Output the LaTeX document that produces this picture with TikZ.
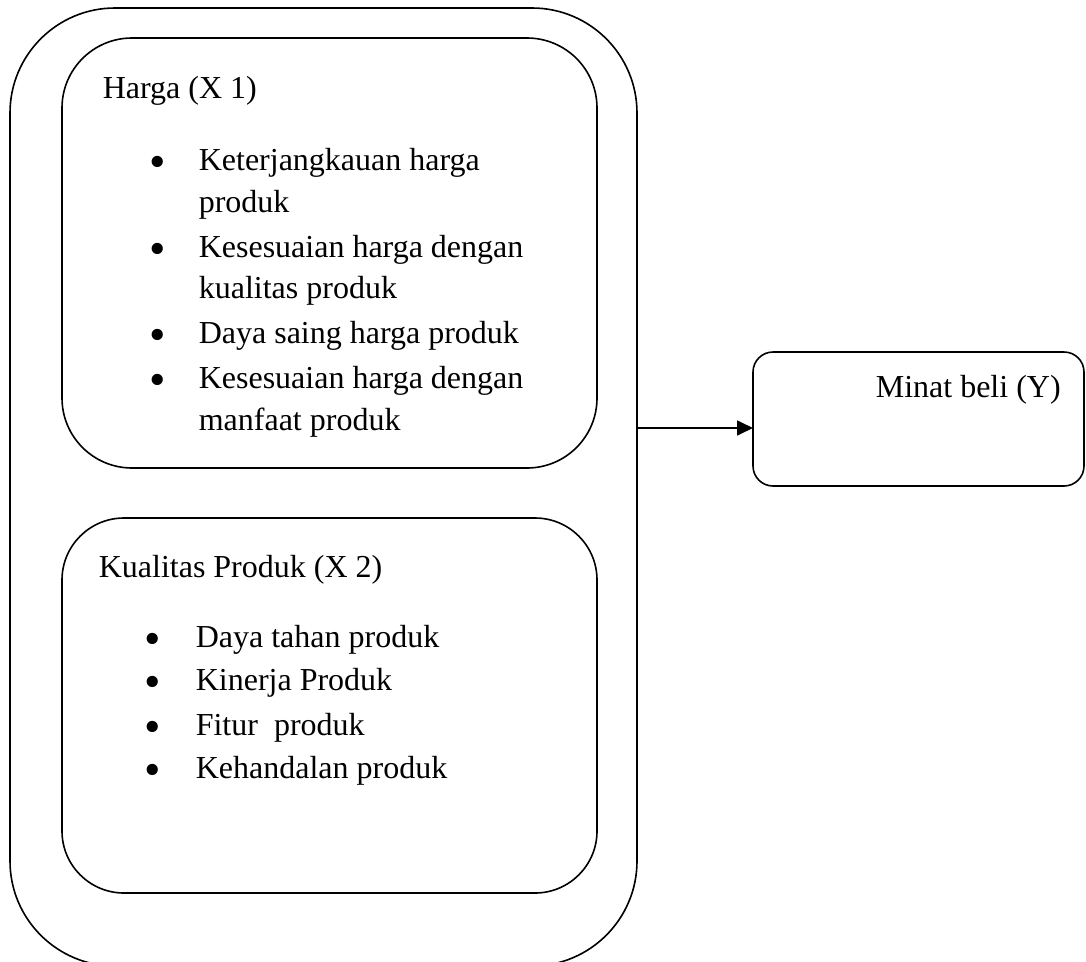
\documentclass[tikz,border=0pt]{standalone}
\usepackage{fontspec}
\setmainfont{Liberation Serif}
\usetikzlibrary{arrows.meta}
\begin{document}
\begin{tikzpicture}[x=1pt,y=-1pt, line width=1.6pt,
  box/.style={draw, rectangle, inner sep=0pt, outer sep=0pt, anchor=north west},
  txt/.style={anchor=base west, inner sep=0pt, font=\fontsize{32}{38}\selectfont},
  bul/.style={anchor=base, inner sep=0pt, yshift=-7pt, font=\fontsize{47}{50}\selectfont},
  arr/.style={-{Triangle[length=16pt,width=15pt]}}]
\useasboundingbox (0,0) rectangle (1086,961);
\node[box, rounded corners=105pt, minimum width=627pt, minimum height=958pt] (outer) at (10,8) {};
\node[box, rounded corners=70pt, minimum width=535pt, minimum height=430pt] (harga) at (62,38) {};
\node[box, rounded corners=62pt, minimum width=535pt, minimum height=375pt] (kualitas) at (62,518) {};
\node[box, rounded corners=20pt, minimum width=331pt, minimum height=134pt] (minat) at (753,352) {};

% Harga
\node[txt] (h0) at (102,98) {Harga (X 1)};
\node[bul] (hb1) at (158,170) {\textbullet};
\node[txt] (h1) at (198,170) {Keterjangkauan harga};
\node[txt] (h1b) at (198,212) {produk};
\node[bul] (hb2) at (158,257) {\textbullet};
\node[txt] (h2) at (198,257) {Kesesuaian harga dengan};
\node[txt] (h2b) at (198,298) {kualitas produk};
\node[bul] (hb3) at (158,343) {\textbullet};
\node[txt] (h3) at (198,343) {Daya saing harga produk};
\node[bul] (hb4) at (158,388) {\textbullet};
\node[txt] (h4) at (198,388) {Kesesuaian harga dengan};
\node[txt] (h4b) at (198,430) {manfaat produk};

% Kualitas
\node[txt] (k0) at (98,577) {Kualitas Produk (X 2)};
\node[bul] (kb1) at (153,647) {\textbullet};
\node[txt] (k1) at (195,647) {Daya tahan produk};
\node[bul] (kb2) at (153,690) {\textbullet};
\node[txt] (k2) at (195,690) {Kinerja Produk};
\node[bul] (kb3) at (153,735) {\textbullet};
\node[txt] (k3) at (195,735) {Fitur~ produk};
\node[bul] (kb4) at (153,778) {\textbullet};
\node[txt] (k4) at (195,778) {Kehandalan produk};

% Minat
\node[txt] (m0) at (875,397) {Minat beli (Y)};

\path (minat.west) ++(0,9) coordinate (mw);
\draw[arr] (outer.east |- mw) -- (mw);
\end{tikzpicture}
\end{document}
